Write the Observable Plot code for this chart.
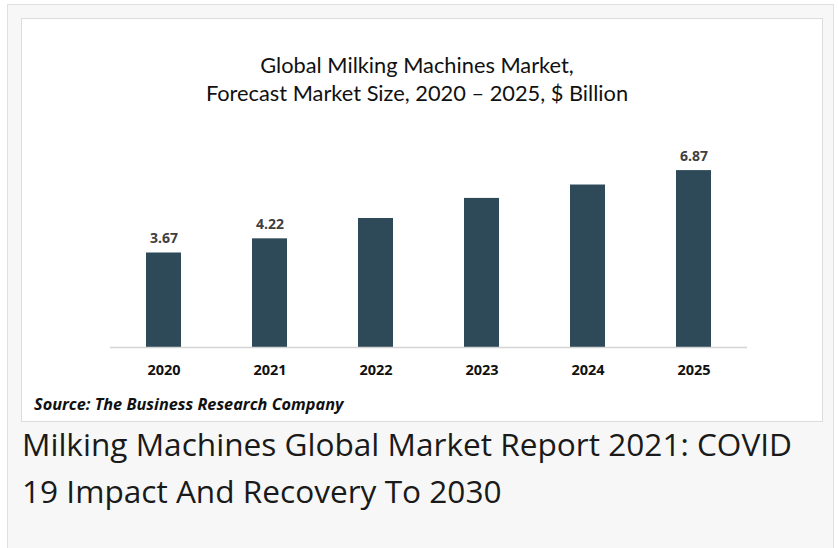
<!DOCTYPE html>
<html>
<head>
<meta charset="utf-8">
<script src="https://cdn.jsdelivr.net/npm/d3@7"></script>
<script src="https://cdn.jsdelivr.net/npm/@observablehq/plot@0.6"></script>
<style>
  html, body { margin: 0; padding: 0; background: #ffffff; width: 838px; height: 548px; overflow: hidden; }
  #outer { position: absolute; left: 7px; top: 4px; width: 827px; height: 560px; background: #f7f7f7; border: 1px solid #e0e0e0; box-sizing: border-box; }
  #panel { position: absolute; left: 21px; top: 18px; width: 802px; height: 404px; background: #ffffff; border: 1px solid #dcdcdc; box-sizing: border-box; }
  .title { position: absolute; left: 0; width: 790px; text-align: center; font-family: Lato, "Open Sans", sans-serif; font-size: 21.8px; color: #111; white-space: nowrap; }
  #chart { position: absolute; left: -2px; top: 101px; }
  #source { position: absolute; left: 12px; top: 374px; font-family: "Open Sans", sans-serif; font-weight: bold; font-style: italic; font-size: 16.3px; color: #111; white-space: nowrap; }
  #heading { position: absolute; left: 22px; top: 420px; width: 790px; font-family: "Open Sans", sans-serif; font-size: 31.6px; line-height: 47px; color: #1a1a1a; }
</style>
</head>
<body>
<div id="outer"></div>
<div id="panel">
  <div class="title" id="t1" style="top: 32px;">Global Milking Machines Market,</div>
  <div class="title" id="t2" style="top: 60px;">Forecast Market Size, 2020 – 2025, $ Billion</div>
  <div id="chart"></div>
  <div id="source">Source: The Business Research Company</div>
</div>
<div id="heading">Milking Machines Global Market Report 2021: COVID 19 Impact And Recovery To 2030</div>
<script>
const years = ["2020", "2021", "2022", "2023", "2024", "2025"];
const values = [3.67, 4.22, 5.01, 5.79, 6.31, 6.87];
const labels = ["3.67", "4.22", "", "", "", "6.87"];

const data = years.map((year, i) => ({year, value: values[i], label: labels[i]}));

const chart = Plot.plot({
  width: 802,
  height: 270,
  marginLeft: 90,
  marginRight: 75,
  marginTop: 21,
  marginBottom: 43,
  style: {background: "transparent", fontFamily: "'Open Sans', sans-serif", overflow: "visible"},
  x: {domain: years, paddingInner: 0.67, paddingOuter: 0.335, label: null},
  y: {domain: [0, 8], axis: null},
  marks: [
    Plot.barY(data, {x: "year", y: "value", fill: "#2e4a59"}),
    Plot.ruleY([0], {stroke: "#d4d4d4", strokeWidth: 1.5}),
    Plot.text(data.filter(d => d.label), {x: "year", y: "value", text: "label", dy: -10, lineAnchor: "bottom", fontSize: 14, fontWeight: "bold", fill: "#404040"}),
    Plot.axisX({tickSize: 0, tickPadding: 17, fontSize: 14.5, fontWeight: "bold", color: "#111", label: null})
  ]
});
document.getElementById("chart").appendChild(chart);
</script>
</body>
</html>
